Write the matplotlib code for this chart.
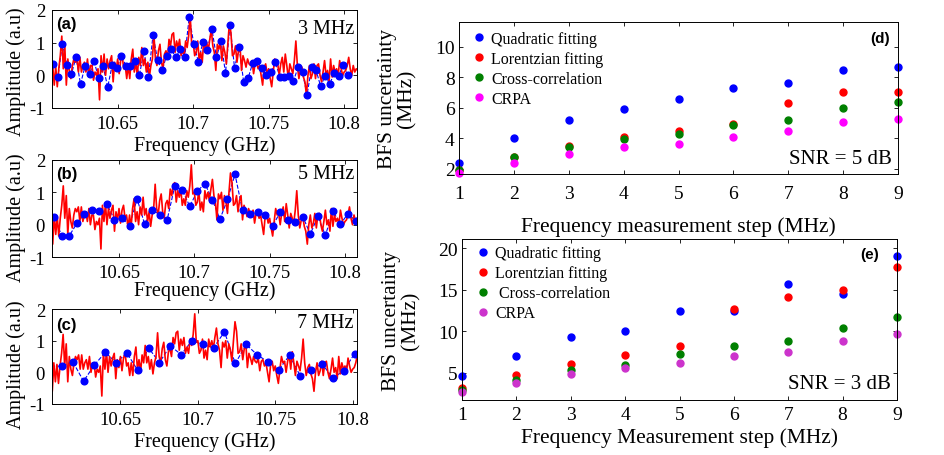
import numpy as np
import matplotlib.pyplot as plt

plt.rcParams['font.family'] = ['Liberation Serif', 'DejaVu Serif']
plt.rcParams['axes.unicode_minus'] = False

# ---- measured spectrum (red), 1 MHz grid from 10.605 GHz
f0_red, df_red = 10.605, 0.001
red = [0.55, -0.6, 0.3, -0.3, 0.25, -0.35, 0.2, 0.6, 1.2, 0.2,
       0.9, -0.3, 0.5, 0.1, -0.1, 0.3, 0.5, 0.4, 0.55, 0.1,
       0.55, 0.1, 0.3, 0.4, 0.1, 0.5, 0.0, 0.3, 0.3, -0.15,
       0.1, 0.0, 0.2, -0.75, 0.6, 0.1, 0.65, 0.0, 0.5, 0.2,
       0.45, 0.6, -0.2, 0.4, 0.15, 0.5, 0.05, 0.45, 0.6, 0.2,
       0.3, -0.1, 0.3, -0.1, 0.5, 0.8, 0.1, 0.4, 0.0, 0.55,
       0.3, 0.85, 0.3, 0.5, 0.1, 0.4, -0.05, 0.3, 0.5, 1.25,
       0.5, 0.3, 0.75, 0.95, 0.4, 0.2, 0.65, 0.75, 0.5, 1.1,
       0.9, 1.25, 1.3, 0.7, 1.05, 0.85, 1.1, 0.6, 0.8, 0.6,
       1.05, 0.85, 1.2, 1.85, 0.95, 1.0, 0.6, 0.7, 1.05, 0.45,
       0.7, 0.4, 1.05, 0.8, 1.0, 0.75, 1.1, 1.4, 0.9, 0.7,
       0.15, 0.95, 0.8, 1.0, 0.45, 0.9, 0.7, 0.35, 1.0, 1.6,
       1.3, 0.6, 0.65, 0.9, 0.4, 0.75, 0.9, 0.15, 0.6, 0.45,
       0.25, 0.5, 0.35, 0.3, 0.45, 0.05, 0.35, 0.4, 0.2, 0.3,
       0.0, -0.3, 0.25, 0.35, 0.05, 0.2, -0.1, -0.35, 0.1, 0.5,
       0.3, 0.35, 0.0, 0.35, 0.55, 0.1, 0.65, 0.3, -0.1, 0.35,
       0.2, 0.05, 0.45, 1.05, 0.3, -0.1, 0.15, 0.25, -0.05, -0.2,
       -0.6, 0.0, 0.3, -0.1, 0.05, 0.35, -0.1, 0.3, 0.35, 0.0,
       -0.2, 0.1, 0.45, 0.0, 0.15, -0.2, 0.5, -0.05, 0.3, 0.1,
       0.2, 0.0, 0.45, 0.2, 0.0, 0.1, 0.15, 0.3, 0.55, 0.2,
       0.0, 0.3, 0.1, 0.2, 0.15]

# ---- sampled points (blue) for 3, 5 and 7 MHz steps
f0_a, df_a = 10.6074, 0.003
blue_a = [0.35, -0.06, 0.96, 0.33, 0.04, 0.55, -0.27, 0.28, 0.04, 0.43,
          -0.09, 0.27, -0.36, 0.32, 0.21, 0.6, 0.3, 0.3, 0.43, 0.01,
          0.73, -0.04, 1.23, 0.48, 0.15, 0.6, 0.81, 0.55, 0.79, 0.57,
          1.78, 0.96, 0.42, 1.01, 0.76, 1.42, 0.55, 1.04, 0.07, 1.54,
          0.22, 0.86, -0.19, -0.09, 0.38, 0.43, 0.21, 0.0, 0.09, 0.4,
          -0.04, -0.04, -0.01, -0.18, 0.24, 0.09, -0.6, 0.24, 0.16, -0.34,
          -0.01, -0.27, 0.07, -0.01, 0.33, 0.0]

f0_b, df_b = 10.607, 0.005
blue_b = [0.23, -0.34, -0.34, 0.04, 0.33, 0.46, 0.42, 0.63, 0.16, 0.2,
          -0.03, 0.8, 0.02, 0.46, 0.31, 0.16, 1.19, 1.06, 0.57, 1.04,
          1.27, 0.77, 0.17, 0.78, 1.56, 0.44, 0.33, 0.38, 0.31, -0.04,
          0.39, 0.16, 0.07, 0.25, -0.29, 0.26, -0.33, 0.42, 0.02, 0.34,
          0.12]

f0_c, df_c = 10.6052, 0.007
blue_c = [0.2, 0.19, 0.34, -0.28, 0.23, 0.63, 0.31, 0.61, 0.06, 0.77,
          0.31, 0.84, 0.56, 1.0, 0.88, 0.78, 1.28, 0.28, 0.88, 0.56,
          0.33, 0.07, 0.54, -0.12, 0.07, 0.27, -0.18, 0.05, 0.59]

# ---- BFS uncertainty vs frequency step
steps = [1, 2, 3, 4, 5, 6, 7, 8, 9]
method_labels_d = ['Quadratic fitting', 'Lorentzian fitting', 'Cross-correlation', 'CRPA']
method_labels_e = ['Quadratic fitting', 'Lorentzian fitting', ' Cross-correlation', 'CRPA']

quad_5db = [2.4, 4.0, 5.2, 5.9, 6.6, 7.3, 7.65, 8.5, 8.7]
lor_5db = [1.9, 2.8, 3.5, 4.05, 4.5, 4.95, 6.3, 7.05, 7.05]
xcorr_5db = [1.9, 2.75, 3.4, 3.95, 4.3, 4.85, 5.2, 6.0, 6.35]
crpa_5db = [1.7, 2.4, 2.95, 3.4, 3.65, 4.1, 4.45, 5.05, 5.25]

quad_3db = [4.6, 7.1, 9.3, 10.0, 12.5, 12.45, 15.65, 14.5, 19.1]
lor_3db = [3.2, 4.7, 6.04, 7.2, 8.3, 12.65, 14.1, 15.0, 17.7]
xcorr_3db = [2.95, 4.1, 5.3, 6.0, 7.3, 8.3, 8.9, 10.35, 11.75]
crpa_3db = [2.75, 3.85, 4.84, 5.6, 6.24, 7.04, 7.56, 8.8, 9.68]


fig = plt.figure(figsize=(9.45, 4.56), dpi=100)


def spectrum_panel(rect, f0, df, vals, letter, step_txt, xlim, xlab_y, ylab_y, txt_y):
    ax = fig.add_axes(rect)
    fr = f0_red + df_red * np.arange(len(red))
    fb = f0 + df * np.arange(len(vals))
    ax.plot(fb, vals, '--', color='#0000ff', lw=0.8)
    ax.plot(fr, red, color='#ff0000', lw=1.2)
    ax.plot(fb, vals, 'o', color='#0000ff', ms=4.8, ls='none')
    ax.set_xlim(xlim)
    ax.set_ylim(-1, 2)
    ax.set_xticks([10.65, 10.7, 10.75, 10.8])
    ax.set_xticklabels(['10.65', '10.7', '10.75', '10.8'])
    ax.set_yticks([-1, 0, 1, 2])
    ax.tick_params(direction='in', top=True, right=True, length=3,
                   labelsize=13.5, pad=5, width=0.6)
    for s in ax.spines.values():
        s.set_linewidth(0.7)
    ax.set_xlabel('Frequency (GHz)', fontsize=14.5)
    ax.xaxis.label.set_va('center')
    ax.xaxis.set_label_coords(0.5, xlab_y)
    ax.set_ylabel('Amplitude (a.u)', fontsize=14.5)
    ax.yaxis.label.set_va('center')
    ax.yaxis.set_label_coords(-0.118, ylab_y)
    ax.text(0.012, txt_y[0], letter, transform=ax.transAxes, fontsize=12,
            fontweight='bold', family='Liberation Sans', va='center', ha='left')
    ax.text(0.99, txt_y[1], step_txt, transform=ax.transAxes, fontsize=14.5,
            va='center', ha='right')
    return ax


spectrum_panel([0.055, 0.761, 0.3228, 0.215], f0_a, df_a, blue_a, '(a)', '3 MHz',
               (10.6065, 10.8085), -0.38, 0.38, (0.857, 0.81))
spectrum_panel([0.055, 0.434, 0.3228, 0.213], f0_b, df_b, blue_b, '(b)', '5 MHz',
               (10.6055, 10.808), -0.34, 0.42, (0.856, 0.856))
ax_c = spectrum_panel([0.055, 0.112, 0.3228, 0.208], f0_c, df_c, blue_c, '(c)', '7 MHz',
                      (10.6058, 10.8028), -0.39, 0.42, (0.84, 0.86))
# first sample of (c) lies just outside the axis; keep only its connecting line
ax_c.lines[2].set_markevery(slice(1, None))


def uncertainty_panel(rect, series, colors, labels, ylim, yticks, letter, letter_xy,
                      snr, xlabel, xlab_y, xpad, leg_anchor):
    ax = fig.add_axes(rect)
    for vals, c, lab in zip(series, colors, labels):
        ax.plot(steps, vals, 'o', color=c, ms=5, ls='none', label=lab, clip_on=False)
    ax.set_xlim(1, 9)
    ax.set_ylim(ylim)
    ax.set_xticks(steps)
    ax.set_yticks(yticks)
    ax.tick_params(direction='in', top=True, right=True, length=3,
                   labelsize=14, width=0.6)
    ax.tick_params(axis='x', pad=xpad)
    ax.tick_params(axis='y', pad=3)
    for s in ax.spines.values():
        s.set_linewidth(0.7)
    ax.set_xlabel(xlabel, fontsize=15.5)
    ax.xaxis.label.set_va('center')
    ax.xaxis.set_label_coords(0.5, xlab_y)
    ax.set_ylabel('BFS uncertainty\n(MHz)', fontsize=15.5, linespacing=1.0)
    ax.yaxis.label.set_va('center')
    ax.yaxis.set_label_coords(-0.14, 0.5)
    ax.legend(loc='upper left', bbox_to_anchor=leg_anchor, frameon=False,
              borderpad=0, borderaxespad=0, handlelength=1.0, handletextpad=0.25,
              labelspacing=0.25, fontsize=11.5)
    ax.text(letter_xy[0], letter_xy[1], letter, transform=ax.transAxes, fontsize=11,
            fontweight='bold', family='Liberation Sans', ha='center', va='center')
    ax.text(0.985, 0.1, snr, transform=ax.transAxes, fontsize=15,
            ha='right', va='center')
    return ax


uncertainty_panel([0.4857, 0.616, 0.4646, 0.333],
                  [quad_5db, lor_5db, xcorr_5db, crpa_5db],
                  ['#0000ff', '#ff0000', '#008000', '#ff00ff'], method_labels_d,
                  (1.65, 11.6), [2, 4, 6, 8, 10], '(d)', (0.959, 0.895),
                  'SNR = 5 dB', 'Frequency measurement step (MHz)', -0.34, 8,
                  (0.028, 0.944))
uncertainty_panel([0.4889, 0.1206, 0.4603, 0.353],
                  [quad_3db, lor_3db, xcorr_3db, crpa_3db],
                  ['#0000ff', '#ff0000', '#008000', '#cc33cc'], method_labels_e,
                  (1.75, 21.1), [5, 10, 15, 20], '(e)', (0.938, 0.907),
                  'SNR = 3 dB', 'Frequency Measurement step (MHz)', -0.23, 4,
                  (0.031, 0.96))

fig.savefig('out.png', dpi=100)
